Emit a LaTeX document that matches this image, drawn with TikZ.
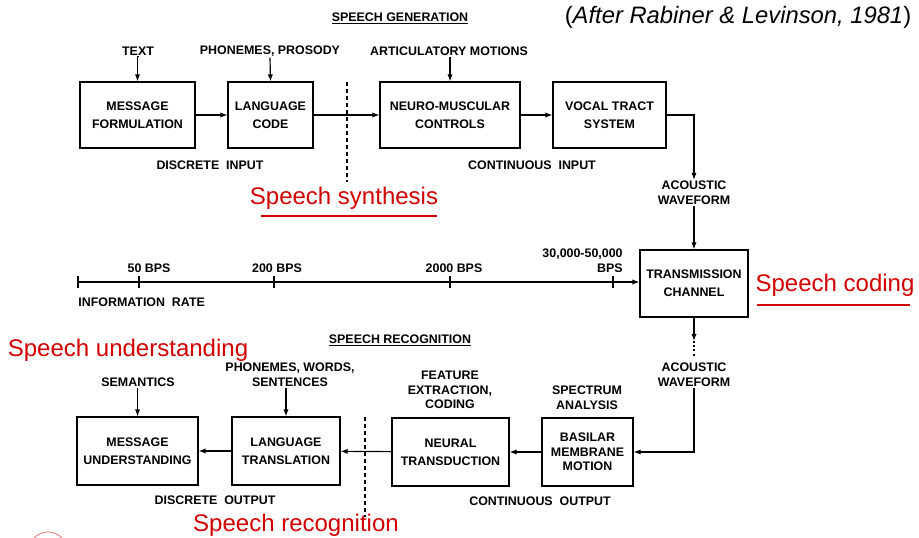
\documentclass[tikz,border=0pt]{standalone}
\usepackage{fontspec}
\setmainfont{Liberation Sans}
\usetikzlibrary{positioning,arrows.meta}
\definecolor{notered}{RGB}{210,0,0}
\newcommand\lbl{\fontsize{10.6}{12.5}\selectfont\bfseries}
\tikzset{
  blk/.style={draw, line width=1.1pt, align=center, inner sep=0pt, font=\lbl},
  lbl/.style={font=\lbl, align=center, inner sep=1pt},
  note/.style={text=notered, font=\fontsize{20.5}{24}\selectfont, inner sep=0pt},
  flow/.style={->, line width=1pt},
  redline/.style={notered, line width=2.4pt},
}
\begin{document}
\begin{tikzpicture}[>={Latex[length=6pt,width=4.5pt]}, x=0.03cm, y=-0.03cm]
\useasboundingbox (0,0) rectangle (919,538);
\clip (0,0) rectangle (919,538);

% speech generation
\node[lbl] (gentitle) at (400,18) {\underline{SPEECH GENERATION}};
\node[inner sep=0pt, font=\fontsize{20.3}{24}\selectfont] (after) at (738,17) {(\textit{After Rabiner \& Levinson, 1981})};
\node[blk, minimum width=3.45cm, minimum height=1.98cm] (mform) at (137.5,115) {MESSAGE\\[3pt]FORMULATION};
\node[blk, minimum width=2.55cm, minimum height=1.98cm] (lcode) at (270.5,115) {LANGUAGE\\[3pt]CODE};
\node[blk, minimum width=4.2cm, minimum height=1.98cm] (nmc) at (450,115) {NEURO-MUSCULAR\\[3pt]CONTROLS};
\node[blk, minimum width=3.39cm, minimum height=1.98cm] (vts) at (609.5,115) {VOCAL TRACT\\[3pt]SYSTEM};
\node[lbl] (ttext) at (138,51) {TEXT};
\node[lbl] (tphon) at (270,51) {PHONEMES, PROSODY};
\node[lbl] (tartic) at (449,51) {ARTICULATORY MOTIONS};
\node[lbl] (dinput) at (210,165) {DISCRETE\ \ INPUT};
\node[lbl] (cinput) at (532,165) {CONTINUOUS\ \ INPUT};
\node[note] (synth) at (344,198) {Speech synthesis};
\draw[redline] (261,216) -- (437,216);
\draw[flow] (ttext.south) -- (ttext.south -| mform.north) -- (mform.north);
\draw[flow] (tphon.south) -- (lcode.north);
\draw[flow] (tartic.south -| nmc.north) -- (nmc.north);
\draw[flow] (mform) -- (lcode);
\draw[flow] (lcode) -- (nmc);
\draw[flow] (nmc) -- (vts);
\draw[dashed, line width=0.9pt] (347,82) -- (347,182);

% transmission
\node[lbl] (wave1) at (694,193) {ACOUSTIC\\WAVEFORM};
\node[blk, minimum width=3.24cm, minimum height=2.01cm] (tch) at (694,283.5) {TRANSMISSION\\[3pt]CHANNEL};
\draw[flow] (vts.east) -| (wave1.north);
\draw[flow] (wave1.south) -- (tch.north);
\node[note] (coding) at (835,285) {Speech coding};
\draw[redline] (757,305) -- (910,305);

% information rate axis
\coordinate (rate0) at (78,282);
\draw[flow] (rate0) -- (rate0 -| tch.west);
\foreach \tx in {78,139,274,450,613}
  \draw[line width=1pt] (\tx,276) -- (\tx,288);
\node[lbl] (r50) at (149,268) {50 BPS};
\node[lbl] (r200) at (277,268) {200 BPS};
\node[lbl] (r2000) at (454,268) {2000 BPS};
\node[lbl, align=right, anchor=east] (rtop) at (624,261) {30,000-50,000\\BPS};
\node[lbl, anchor=west] (rname) at (77,302) {INFORMATION\ \ RATE};

% speech recognition
\node[lbl] (rectitle) at (400,340) {\underline{SPEECH RECOGNITION}};
\node[note] (underst) at (128,350) {Speech understanding};
\coordinate (tip2) at (694,341);
\node[lbl] (wave2) at (694,375) {ACOUSTIC\\WAVEFORM};
\draw[flow] (tch.south) -- (tip2);
\draw[dotted, line width=1.6pt] (tip2) -- (694,356);
\node[blk, minimum width=2.73cm, minimum height=2.04cm] (bmm) at (587.5,452) {BASILAR\\MEMBRANE\\MOTION};
\node[blk, minimum width=3.51cm, minimum height=2.04cm] (ntr) at (450.5,452) {NEURAL\\[3pt]TRANSDUCTION};
\node[blk, minimum width=3.24cm, minimum height=2.04cm] (ltr) at (286,451) {LANGUAGE\\[3pt]TRANSLATION};
\node[blk, minimum width=3.63cm, minimum height=2.04cm] (mund) at (137.5,451) {MESSAGE\\[3pt]UNDERSTANDING};
\draw[flow] (wave2.south) |- (bmm.east);
\draw[flow] (bmm) -- (ntr);
\draw[flow] (ntr) -- (ltr);
\draw[flow] (ltr) -- (mund);
\node[lbl] (tsem) at (138,382) {SEMANTICS};
\node[lbl] (twords) at (290,375) {PHONEMES, WORDS,\\SENTENCES};
\node[lbl] (tfeat) at (450,390) {FEATURE\\EXTRACTION,\\CODING};
\node[lbl] (tspec) at (587,398) {SPECTRUM\\ANALYSIS};
\draw[flow] (tsem.south -| mund.north) -- (mund.north);
\draw[flow] (twords.south -| ltr.north) -- (ltr.north);
\node[lbl] (doutput) at (215,500) {DISCRETE\ \ OUTPUT};
\node[lbl] (coutput) at (540,501) {CONTINUOUS\ \ OUTPUT};
\draw[dashed, line width=0.9pt] (365,417) -- (365,517);
\node[note] (recog) at (296,525) {Speech recognition};
\draw[notered!60, line width=0.6pt] (48,551) circle[radius=0.57cm];
\end{tikzpicture}
\end{document}
